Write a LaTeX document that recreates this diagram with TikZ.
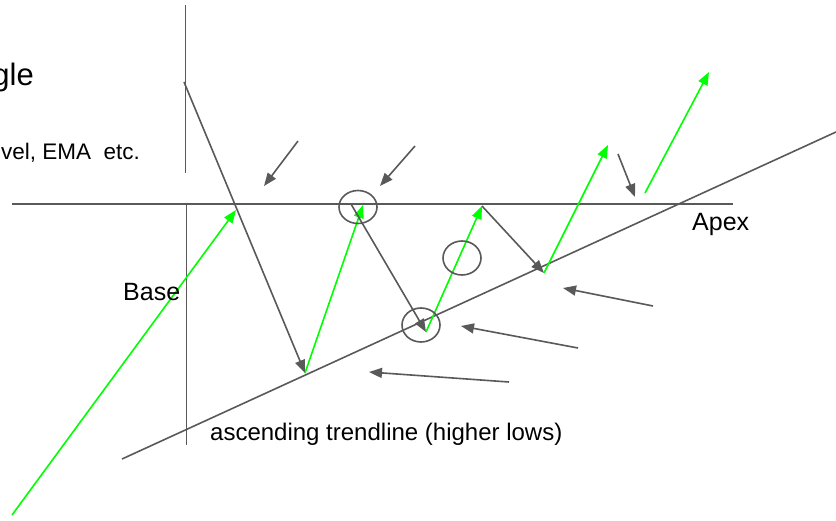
\documentclass[tikz,border=0pt]{standalone}
\usepackage{fontspec}
\setmainfont{Liberation Sans}
\usetikzlibrary{arrows.meta}

\definecolor{linegray}{HTML}{595959}
\definecolor{upgreen}{HTML}{00FF00}

\begin{document}
\begin{tikzpicture}[x=1pt, y=-1pt,
  guide/.style={draw=linegray, line width=1.6pt},
  down/.style={guide, -{Triangle[length=13pt, width=10pt]}},
  up/.style={draw=upgreen, line width=1.6pt, -{Triangle[length=13pt, width=10pt]}},
  ring/.style={draw=linegray, line width=1.6pt},
  txt/.style={inner sep=0pt, text=black}
]
\useasboundingbox (0,0) rectangle (836,520);

\coordinate (top) at (184,82);
\coordinate (low1) at (305,373);
\coordinate (hi1) at (363,205);
\coordinate (hi1s) at (351,204);
\coordinate (low2) at (426,332);
\coordinate (hi2) at (482,206);
\coordinate (low3) at (544,273);
\coordinate (brk1) at (608,145);
\coordinate (brk2s) at (645,193);
\coordinate (brk2) at (709,72);
\coordinate (start) at (12,515);
\coordinate (entry) at (236,210);

\draw[guide] (185.5,5) -- (185.5,173);
\draw[guide] (186.5,204) -- (186.5,445);
\draw[guide] (12,204) -- (733,204);
\draw[guide] (122,459) -- (836,132);

\draw[up] (start) -- (entry);
\draw[down] (top) -- (low1);
\draw[up] (low1) -- (hi1);
\draw[down] (hi1s) -- (low2);
\draw[up] (low2) -- (hi2);
\draw[down] (hi2) -- (low3);
\draw[up] (low3) -- (brk1);
\draw[up] (brk2s) -- (brk2);

\draw[down] (298,141) -- (264,186);
\draw[down] (415,146) -- (380,186);
\draw[down] (618,154) -- (635,197);
\draw[down] (653,306) -- (563,288);
\draw[down] (578,348) -- (461,326);
\draw[down] (509,382) -- (369,372);

\draw[ring] (358,207) ellipse [x radius=19, y radius=16.5];
\draw[ring] (462,258) ellipse [x radius=19, y radius=17];
\draw[ring] (421,325) ellipse [x radius=19, y radius=17];

\node[txt, anchor=base east, font=\fontsize{31}{36}\selectfont] (title) at (34,85) {gle};
\node[txt, anchor=base east, font=\fontsize{22.5}{27}\selectfont] (note) at (140,159) {vel, EMA\ \ etc.};
\node[txt, anchor=base west, font=\fontsize{25}{30}\selectfont] (base) at (123,300) {Base};
\node[txt, anchor=base west, font=\fontsize{25}{30}\selectfont] (apex) at (692,230) {Apex};
\node[txt, anchor=base west, font=\fontsize{24}{29}\selectfont] (trend) at (210,440) {ascending trendline (higher lows)};
\end{tikzpicture}
\end{document}
